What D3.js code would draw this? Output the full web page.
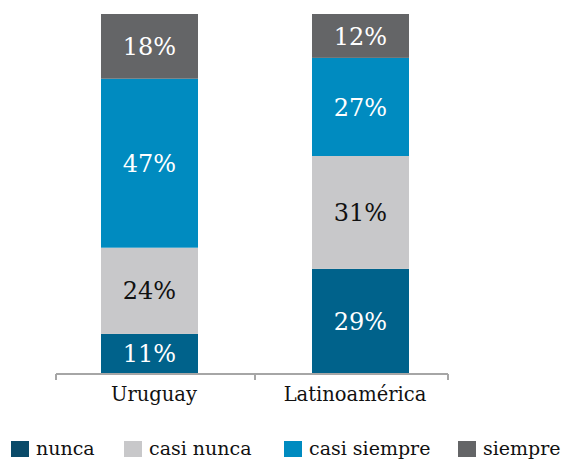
<!DOCTYPE html>
<html>
<head>
<meta charset="utf-8">
<script src="https://cdn.jsdelivr.net/npm/d3@7"></script>
<style>
  html, body { margin: 0; padding: 0; background: #ffffff; }
  svg { display: block; }
  text { font-family: "DejaVu Serif", "Liberation Serif", serif; }
</style>
</head>
<body>
<svg id="chart" width="563" height="460"></svg>
<script>
// ---- data ----
const categories = ["Uruguay", "Latinoamérica"];
const seriesNames = ["nunca", "casi nunca", "casi siempre", "siempre"];
const nunca       = [11, 29.1];
const casiNunca   = [24, 31.4];
const casiSiempre = [47, 27.3];
const siempre     = [18, 12.2];
const barLabels = [
  ["11%", "24%", "47%", "18%"],
  ["29%", "31%", "27%", "12%"]
];

// ---- styles ----
const barColors    = ["#00628b", "#c8c8ca", "#008bc0", "#646567"];
const legendColors = ["#0a4b69", "#c8c8ca", "#008bc0", "#646567"];
const labelColors  = ["#ffffff", "#111111", "#ffffff", "#ffffff"];

const rows = categories.map((c, i) => ({
  cat: c,
  "nunca": nunca[i],
  "casi nunca": casiNunca[i],
  "casi siempre": casiSiempre[i],
  "siempre": siempre[i]
}));

const stack = d3.stack().keys(seriesNames);
const layers = stack(rows);

const svg = d3.select("#chart");

const x = d3.scaleBand()
  .domain(categories)
  .range([101, 409])
  .paddingInner(114 / 211)
  .paddingOuter(0);

const y = d3.scaleLinear()
  .domain([0, 100])
  .range([373.5, 14]);

// bars
const g = svg.append("g");
layers.forEach((layer, si) => {
  g.selectAll(null)
    .data(layer)
    .enter()
    .append("rect")
    .attr("x", d => x(d.data.cat))
    .attr("width", x.bandwidth())
    .attr("y", d => y(d[1]))
    .attr("height", d => y(d[0]) - y(d[1]))
    .attr("fill", barColors[si]);

  g.selectAll(null)
    .data(layer)
    .enter()
    .append("text")
    .attr("x", d => x(d.data.cat) + x.bandwidth() / 2)
    .attr("y", d => (y(d[0]) + y(d[1])) / 2)
    .attr("dy", "0.36em")
    .attr("text-anchor", "middle")
    .attr("font-size", 24)
    .attr("fill", labelColors[si])
    .text((d, ci) => barLabels[ci][si]);
});

// axis
const axisY = 374;
const axisLeft = 56, axisRight = 448;
const axisColor = "#a6a6a6";
const gap = x.step() - x.bandwidth();
const midTick = x(categories[0]) + x.bandwidth() + gap / 2;
const tickXs = [axisLeft, midTick, axisRight];

const ax = svg.append("g");
ax.append("line")
  .attr("x1", axisLeft).attr("x2", axisRight)
  .attr("y1", axisY).attr("y2", axisY)
  .attr("stroke", axisColor).attr("stroke-width", 2);
ax.selectAll(null)
  .data(tickXs)
  .enter()
  .append("line")
  .attr("x1", d => d).attr("x2", d => d)
  .attr("y1", axisY).attr("y2", axisY + 6)
  .attr("stroke", axisColor).attr("stroke-width", 2);

const labelShift = [4.5, -5.5];
ax.selectAll(null)
  .data(categories)
  .enter()
  .append("text")
  .attr("x", (d, i) => x(d) + x.bandwidth() / 2 + labelShift[i])
  .attr("y", 401)
  .attr("text-anchor", "middle")
  .attr("font-size", 19.5)
  .attr("fill", "#111111")
  .text(d => d);

// legend
const legendX = [11, 124, 284, 458];
const leg = svg.append("g");
seriesNames.forEach((name, i) => {
  leg.append("rect")
    .attr("x", legendX[i]).attr("y", 441)
    .attr("width", 18).attr("height", 16)
    .attr("fill", legendColors[i]);
  leg.append("text")
    .attr("x", legendX[i] + 25)
    .attr("y", 455)
    .attr("font-size", 19)
    .attr("fill", "#111111")
    .text(name);
});
</script>
</body>
</html>
